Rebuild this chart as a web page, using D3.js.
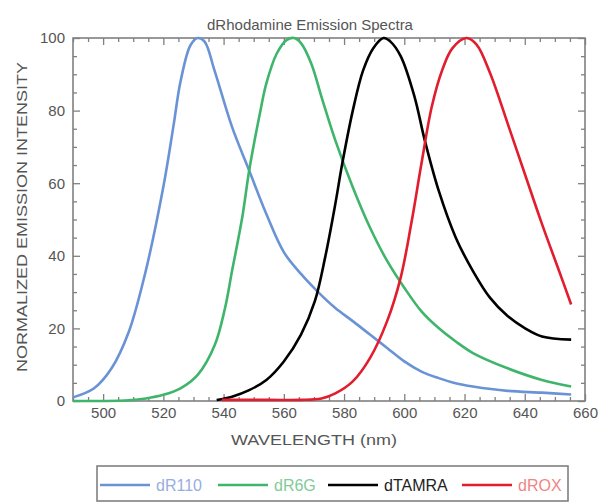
<!DOCTYPE html>
<html>
<head>
<meta charset="utf-8">
<script src="https://cdn.jsdelivr.net/npm/d3@7"></script>
<style>
  html, body { margin: 0; padding: 0; background: #fff; }
  svg { display: block; font-family: "Liberation Sans", Arial, Helvetica, sans-serif; }
  .axis path { display: none; }
  .axis line { stroke: #808080; stroke-width: 1.3; }
  .axis text { fill: #555; font-size: 15px; }
</style>
</head>
<body>
<svg id="chart" width="604" height="503"></svg>
<script>
// Normalized emission spectra (wavelength in nm, intensity in %)
const r110Nm  = [490, 497, 502.8, 508.5, 514.2, 520, 523.4, 525.7, 529, 531.4, 533.7, 537, 542.8, 548.5, 554.2, 560, 565.7, 571.4, 577, 582.9, 588.6, 594.3, 600, 605.7, 611.4, 617, 622.8, 634.3, 645.7, 655.4];
const r110Val = [1, 3.5, 9, 19, 36, 59, 76, 88, 98, 100, 99, 91, 75.5, 63.5, 51.5, 41, 35, 30, 25.7, 22, 18.3, 14.6, 10.9, 8.1, 6.3, 4.9, 4, 2.8, 2.3, 1.8];

const r6gNm  = [490, 500, 508.5, 514.2, 520, 525.7, 531.4, 537.1, 540.5, 542.8, 546.2, 548.5, 552, 554.2, 557.7, 561, 563.4, 565.7, 569.1, 572.5, 577.1, 582.9, 588.6, 594.3, 600, 605.7, 611.4, 617.1, 622.8, 634.3, 645.7, 655.4];
const r6gVal = [0, 0, 0.2, 0.7, 1.7, 3.5, 7.2, 15.5, 25.7, 35.8, 50.6, 63.5, 79, 87.5, 95.8, 99.5, 100, 98.6, 93, 83.8, 71.8, 58.9, 47.8, 38.6, 31.2, 24.7, 20.1, 16.4, 13.2, 9, 5.8, 4];

const tamraNm  = [537.7, 542.8, 548.5, 554.2, 560, 565.7, 570.3, 573.7, 577.1, 579.4, 582.9, 586.3, 589.7, 593.1, 595.4, 598.8, 603.4, 606.8, 611.4, 617.1, 622.8, 628.5, 634.3, 640, 645.7, 655.4];
const tamraVal = [0.3, 1.2, 3, 5.8, 10.9, 18.3, 27.5, 39.5, 54.3, 65.4, 80, 91, 97.2, 100, 99, 95, 83.8, 71.8, 58, 45, 35.8, 28.4, 23.4, 20.1, 17.8, 16.9];

const roxNm  = [539.4, 555, 565.7, 572.5, 577.1, 582.9, 588.6, 594.3, 598.8, 602.3, 605.7, 609.1, 612.6, 616, 620.6, 624, 628.5, 634.3, 640, 645.7, 651.4, 655.4];
const roxVal = [0.3, 0.3, 0.3, 0.7, 2.1, 5.4, 11.8, 22, 34, 48.8, 65.4, 81, 91.2, 97.2, 100, 98.2, 90.3, 76.5, 62.6, 48.8, 35.8, 26.6];

const seriesNames  = ["dR110", "dR6G", "dTAMRA", "dROX"];
const seriesColors = ["#6a93d6", "#3fb56c", "#000000", "#e11d2e"];
const labelColors  = ["#97aee0", "#7fcb9a", "#222222", "#f08585"];

const xTicks = [500, 520, 540, 560, 580, 600, 620, 640, 660];
const yTicks = [0, 20, 40, 60, 80, 100];

const series = [
  { name: seriesNames[0], nm: r110Nm,  val: r110Val },
  { name: seriesNames[1], nm: r6gNm,   val: r6gVal },
  { name: seriesNames[2], nm: tamraNm, val: tamraVal },
  { name: seriesNames[3], nm: roxNm,   val: roxVal }
];

const svg = d3.select("#chart");
const plotL = 73, plotR = 585, plotT = 38, plotB = 401;

const x = d3.scaleLinear().domain([490, 660]).range([plotL, plotR]);
const y = d3.scaleLinear().domain([0, 100]).range([plotB, plotT]);

const minorX = d3.range(490, 661, 5).filter(v => !xTicks.includes(v));
const minorY = d3.range(0, 101, 5).filter(v => !yTicks.includes(v));

// Title
svg.append("text")
  .attr("x", 310).attr("y", 30)
  .attr("text-anchor", "middle")
  .attr("fill", "#555")
  .style("font-size", "15px")
  .text("dRhodamine Emission Spectra");

// Ticks on all four sides, pointing inward
const gB = svg.append("g").attr("class", "axis").attr("transform", `translate(0,${plotB})`);
gB.call(d3.axisBottom(x).tickValues(xTicks).tickSize(-7).tickPadding(6).tickFormat(d3.format("d")));
gB.append("g").call(d3.axisBottom(x).tickValues(minorX).tickSize(-4).tickFormat(""));

const gT = svg.append("g").attr("class", "axis").attr("transform", `translate(0,${plotT})`);
gT.call(d3.axisTop(x).tickValues(xTicks).tickSize(-7).tickFormat(""));
gT.append("g").call(d3.axisTop(x).tickValues(minorX).tickSize(-4).tickFormat(""));

const gL = svg.append("g").attr("class", "axis").attr("transform", `translate(${plotL},0)`);
gL.call(d3.axisLeft(y).tickValues(yTicks).tickSize(-7).tickPadding(8).tickFormat(d3.format("d")));
gL.append("g").call(d3.axisLeft(y).tickValues(minorY).tickSize(-4).tickFormat(""));

const gR = svg.append("g").attr("class", "axis").attr("transform", `translate(${plotR},0)`);
gR.call(d3.axisRight(y).tickValues(yTicks).tickSize(-7).tickFormat(""));
gR.append("g").call(d3.axisRight(y).tickValues(minorY).tickSize(-4).tickFormat(""));

// Plot frame
svg.append("rect")
  .attr("x", plotL).attr("y", plotT)
  .attr("width", plotR - plotL).attr("height", plotB - plotT)
  .attr("fill", "none").attr("stroke", "#808080").attr("stroke-width", 1.6);

// Spectra
const line = d3.line()
  .x(d => x(d[0]))
  .y(d => y(d[1]))
  .curve(d3.curveCatmullRom.alpha(0.5));

series.forEach((s, i) => {
  svg.append("path")
    .datum(s.nm.map((n, k) => [n, s.val[k]]))
    .attr("fill", "none")
    .attr("stroke", seriesColors[i])
    .attr("stroke-width", 2.6)
    .attr("stroke-linejoin", "round")
    .attr("d", line);
});

// Axis titles
svg.append("text")
  .attr("x", 314).attr("y", 445)
  .attr("text-anchor", "middle")
  .attr("fill", "#555")
  .style("font-size", "14px")
  .attr("textLength", 166).attr("lengthAdjust", "spacingAndGlyphs")
  .text("WAVELENGTH   (nm)");

svg.append("text")
  .attr("transform", "translate(27,217) rotate(-90)")
  .attr("text-anchor", "middle")
  .attr("fill", "#555")
  .style("font-size", "14px")
  .attr("textLength", 310).attr("lengthAdjust", "spacingAndGlyphs")
  .text("NORMALIZED EMISSION INTENSITY");

// Legend
const legend = svg.append("g");
legend.append("rect")
  .attr("x", 97).attr("y", 466)
  .attr("width", 471).attr("height", 35)
  .attr("fill", "#fff").attr("stroke", "#808080").attr("stroke-width", 1.6);

const legLineX = [100, 218, 328, 462];
seriesNames.forEach((name, i) => {
  legend.append("line")
    .attr("x1", legLineX[i]).attr("x2", legLineX[i] + 50)
    .attr("y1", 485).attr("y2", 485)
    .attr("stroke", seriesColors[i]).attr("stroke-width", 2.6);
  legend.append("text")
    .attr("x", legLineX[i] + 56).attr("y", 490.5)
    .attr("fill", labelColors[i])
    .style("font-size", "16px")
    .text(name);
});
</script>
</body>
</html>
